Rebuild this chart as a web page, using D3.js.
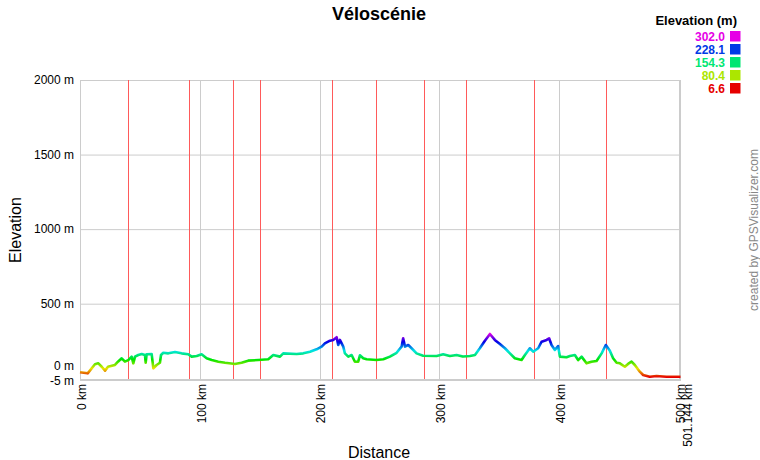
<!DOCTYPE html>
<html><head><meta charset="utf-8">
<script src="https://cdn.jsdelivr.net/npm/d3@7"></script>
<style>body{margin:0;background:#fff}svg{font-family:Arial,"Liberation Sans",sans-serif}</style>
</head><body><svg id="c" width="760" height="460"></svg>
<script>
const distKm = [0,6.4,12.5,15.3,18.1,20.9,23.4,29.2,31.7,34.8,37.5,40.3,43.1,44.5,45.9,48.6,51.5,54.2,54.8,55.6,59.8,61.2,64,66.7,67.6,69.5,73.7,79.3,84.8,90.4,93.2,97.4,101.5,105.7,109.9,115.4,121,129.3,134.9,140.4,148.8,157.1,161.3,166.9,169.6,180.8,186.3,191.9,197.5,201.7,204.4,208.6,211.3,214.2,215.5,216.9,219.7,221.1,223.9,226.7,229.4,232.2,233.6,236.4,239.2,247.5,253.1,258.6,264.2,268.4,269.7,271.2,273.9,276.7,280.9,286.4,297.6,303.1,308.7,314.3,319.5,325.4,329.6,333.7,337.9,342.1,346.2,350.4,354.6,358.8,362.9,368.5,371.3,375.4,378.2,382.4,385.2,389.4,391.5,393.5,396.3,399,400.5,406,408.8,413,415.7,418.6,422.7,426.9,431.1,435.3,438.8,442.2,444.9,447.8,450.5,454.7,457.4,460.3,463,467.2,470,475.5,481.1,489.5,501.144];
const elevM = [40,33,94,100,77,51,77,89,111,134,111,122,145,100,145,156,163,156,104,161,163,67,89,104,156,171,167,176,167,161,145,149,161,134,122,111,104,96,104,118,122,127,156,145,167,163,167,178,194,212,234,252,257,275,223,257,212,167,145,156,111,111,154,134,127,122,127,145,171,212,268,212,223,201,167,151,149,161,149,156,146,149,156,201,252,297,257,230,201,167,134,122,156,201,178,201,245,257,268,223,190,216,145,141,149,156,122,145,100,111,116,167,223,185,134,104,100,77,96,111,89,44,22,10,15,10,10];
const markerKm = [39.8,90.7,127.9,150.4,210.5,246.7,286.8,322.3,379.0,439.1];
const yTicks = [2000,1500,1000,500,0,-5];
const xTicks = [0,100,200,300,400,500];
const legendVals = [302.0,228.1,154.3,80.4,6.6];
const totalKm = 501.144;

const svg = d3.select("#c");
const x = d3.scaleLinear().domain([0,totalKm]).range([80,680.5]);
const y = d3.scaleLinear().domain([-5,2000]).range([379,80]);
const hue = d3.scaleLinear().domain([6.6,302.0]).range([0,300]);
const col = e => d3.hsl(hue(e),1,0.45).toString();

// gridlines
svg.append("g").selectAll("line").data(yTicks.filter(t=>t>0)).join("line")
  .attr("x1",80).attr("x2",680.5).attr("y1",d=>y(d)+.5).attr("y2",d=>y(d)+.5)
  .attr("stroke","#ccc");
svg.append("g").selectAll("line").data(xTicks.filter(t=>t>0&&t<500)).join("line")
  .attr("x1",d=>Math.round(x(d))+.5).attr("x2",d=>Math.round(x(d))+.5).attr("y1",80).attr("y2",379)
  .attr("stroke","#ccc");
// markers
svg.append("g").selectAll("line").data(markerKm).join("line")
  .attr("x1",d=>Math.round(x(d))+.5).attr("x2",d=>Math.round(x(d))+.5).attr("y1",80).attr("y2",379)
  .attr("stroke","#ff5a5a");
// frame
svg.append("line").attr("x1",80.5).attr("x2",80.5).attr("y1",80).attr("y2",380).attr("stroke","#ccc");
svg.append("line").attr("x1",680).attr("x2",680).attr("y1",80).attr("y2",381).attr("stroke","#ccc").attr("stroke-width",2);
svg.append("line").attr("x1",80).attr("x2",681).attr("y1",380).attr("y2",380).attr("stroke","#ccc").attr("stroke-width",2);

// gradient
const grad = svg.append("defs").append("linearGradient").attr("id","eg")
  .attr("gradientUnits","userSpaceOnUse").attr("x1",0).attr("x2",0)
  .attr("y1",y(6.6)).attr("y2",y(302.0));
d3.range(0,11).forEach(i=>{
  const e = 6.6 + (302.0-6.6)*i/10;
  grad.append("stop").attr("offset",i/10).attr("stop-color",col(e));
});
const pts = distKm.map((d,i)=>[d,elevM[i]]);
svg.append("path").datum(pts)
  .attr("d",d3.line().x(d=>x(d[0])).y(d=>y(d[1])))
  .attr("fill","none").attr("stroke","url(#eg)").attr("stroke-width",2.6).attr("stroke-linejoin","round");

// y labels
svg.append("g").selectAll("text").data(yTicks).join("text")
  .attr("x",74).attr("y",d=>y(d)+(d===0?-12.5:(d===-5?1.5:0))).attr("dy","0.35em")
  .attr("text-anchor","end").attr("font-size",12).attr("fill","#000")
  .text(d=>d+" m");
// x labels
svg.append("g").selectAll("text").data(xTicks).join("text")
  .attr("transform",d=>`translate(${x(d)+1.5},384) rotate(-90)`).attr("dy","0.35em")
  .attr("text-anchor","end").attr("font-size",12).text(d=>d+" km");
svg.append("text").attr("transform",`translate(${x(totalKm)+7.5},384) rotate(-90)`).attr("dy","0.35em")
  .attr("text-anchor","end").attr("font-size",12).text(totalKm+" km");

// titles
svg.append("text").attr("x",379).attr("y",20).attr("text-anchor","middle")
  .attr("font-size",18).attr("font-weight","bold").text("Véloscénie");
svg.append("text").attr("transform","translate(21,230) rotate(-90)").attr("text-anchor","middle")
  .attr("font-size",16).text("Elevation");
svg.append("text").attr("x",379).attr("y",458).attr("text-anchor","middle")
  .attr("font-size",16).text("Distance");
svg.append("text").attr("transform","translate(758,230) rotate(-90)").attr("text-anchor","middle")
  .attr("font-size",12).attr("fill","#888").text("created by GPSVisualizer.com");

// legend
svg.append("text").attr("x",737).attr("y",25).attr("text-anchor","end")
  .attr("font-size",13).attr("font-weight","bold").text("Elevation (m)");
const lg = svg.append("g").selectAll("g").data(legendVals).join("g")
  .attr("transform",(d,i)=>`translate(0,${31+i*13})`);
lg.append("rect").attr("x",730).attr("y",0).attr("width",10.5).attr("height",10.5).attr("fill",d=>col(d));
lg.append("text").attr("x",725).attr("y",10).attr("text-anchor","end").attr("font-size",12).attr("font-weight","bold")
  .attr("fill",d=>col(d)).text(d=>d.toFixed(1));
</script></body></html>
